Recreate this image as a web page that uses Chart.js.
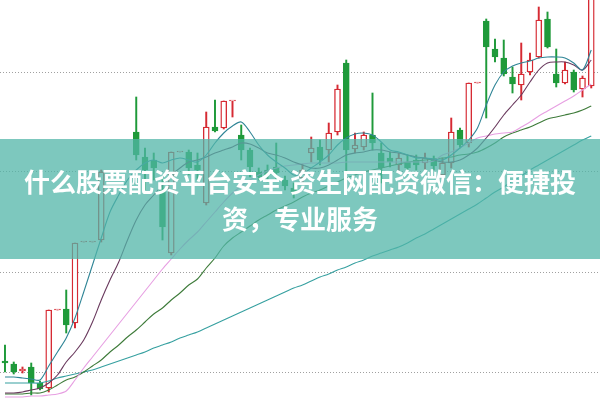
<!DOCTYPE html>
<html>
<head>
<meta charset="utf-8">
<script src="https://cdn.jsdelivr.net/npm/chart.js@4.4.1/dist/chart.umd.min.js"></script>
<style>
  body { margin: 0; background: #fff; }
  #wrap { position: relative; width: 600px; height: 400px; overflow: hidden; }
  #banner {
    position: absolute; left: 0; top: 139px; width: 600px; height: 120px;
    background: rgba(81, 181, 168, 0.75);
    display: flex; align-items: center; justify-content: center;
    color: #fff; font-family: "Noto Sans CJK SC", "Noto Sans", sans-serif;
    font-weight: bold; font-size: 26px; line-height: 37px; text-align: center;
  }
</style>
</head>
<body>
<div id="wrap">
  <canvas id="kChart" width="600" height="400"></canvas>
  <div id="banner"><div>什么股票配资平台安全 资生网配资微信：便捷投<br>资，专业服务</div></div>
</div>
<script>
// daily candles (null = no candle drawn)
const opens  = [11.1,10.8,10.1,10.5,8.9,8.4,16.2,16.3,14.9,23.0,23.0,23.2,null,null,null,34.0,31.5,31.2,28.2,21.9,32.0,32.0,30.7,26.9,34.5,34.4,37.1,33.7,32.2,30.0,30.2,30.5,29.2,28.4,29.4,31.9,32.5,32.2,34.0,40.9,32.3,32.5,33.7,31.9,31.4,30.7,31.0,31.2,30.9,31.2,29.7,30.9,34.2,32.9,38.9,45.1,42.3,41.4,39.5,38.7,40.0,41.5,45.3,39.8,38.9,40.0,38.3,38.6];
const highs  = [12.7,11.0,10.5,10.9,9.1,16.2,16.2,18.2,22.9,23.0,23.0,30.2,null,null,null,37.5,32.4,31.9,29.5,32.0,32.0,32.2,31.9,36.0,37.2,37.1,37.1,34.7,32.4,30.4,30.7,32.9,29.6,28.9,30.8,33.5,33.2,34.9,38.7,41.2,33.9,34.0,37.9,32.9,32.0,31.9,31.7,31.7,31.9,31.6,31.4,35.4,34.4,38.9,38.9,45.3,43.3,43.2,40.5,42.9,41.9,46.5,46.0,42.3,41.0,40.2,39.6,47.5];
const lows   = [10.0,9.8,9.9,7.7,8.2,8.0,16.2,13.9,14.4,23.0,23.0,23.0,null,null,null,31.2,28.2,29.2,23.2,21.7,32.0,29.7,29.2,26.7,34.0,34.3,35.5,31.2,29.5,29.2,29.0,29.2,28.2,27.4,29.0,31.0,30.7,31.0,33.7,29.7,31.9,32.2,32.2,28.9,30.5,29.9,30.0,30.2,30.2,30.2,29.4,30.4,32.4,32.5,38.9,35.4,41.0,39.6,37.9,37.2,39.7,41.4,42.4,38.5,38.8,38.0,37.5,38.4];
const closes = [10.9,10.0,10.3,8.9,8.3,16.2,16.2,14.7,22.9,23.0,23.0,30.0,null,null,null,31.7,30.2,30.4,24.5,32.0,32.0,30.4,30.2,34.5,34.1,37.1,37.1,32.2,30.5,29.5,29.7,29.9,28.6,28.0,30.2,32.4,31.2,33.9,38.3,32.2,32.7,33.7,32.9,30.4,31.0,31.4,30.4,30.7,31.4,30.6,30.9,34.0,32.7,38.9,38.9,42.5,41.5,39.8,38.8,39.8,41.2,45.2,42.5,38.9,40.2,38.2,39.4,47.5];

// moving averages
const ma5  = [9.5,9.5,9.4,9.3,9.2,10.6,12.0,13.4,15.4,18.0,20.7,23.4,26.0,27.7,29.2,30.2,30.9,31.2,30.9,31.2,31.4,31.2,31.0,31.7,32.9,33.9,34.6,35.0,34.0,32.7,31.7,31.0,30.4,29.7,29.8,30.4,31.0,31.7,32.7,33.4,33.8,33.9,33.7,33.0,32.2,32.0,31.7,31.4,31.4,31.3,31.2,31.7,32.4,33.2,34.4,36.7,38.7,40.0,40.6,40.9,41.1,41.4,41.5,41.5,41.4,40.9,40.2,42.2];
const ma10 = [7.9,7.9,8.0,8.2,8.4,8.9,9.7,11.0,12.0,13.2,15.0,17.2,19.2,21.0,23.2,25.2,26.7,27.7,28.7,29.7,30.4,31.0,31.2,31.5,31.9,32.2,32.5,32.9,32.8,32.4,31.9,31.7,31.4,31.0,30.7,30.4,30.4,30.7,31.2,31.7,31.9,32.0,32.2,32.2,32.0,31.9,31.7,31.5,31.4,31.2,31.0,31.0,31.2,31.7,32.4,33.4,34.5,35.7,36.7,37.7,39.0,40.2,40.9,41.0,41.0,40.7,40.2,41.2];
const ma20 = [7.5,7.5,7.5,7.6,7.6,7.7,7.8,8.1,9.2,10.4,11.5,12.6,13.7,14.8,15.9,17.0,18.1,19.2,20.3,21.3,22.3,23.2,24.0,25.0,26.0,27.0,27.9,28.6,29.2,29.7,30.1,30.4,30.6,30.7,30.8,30.9,30.9,30.9,30.9,31.0,31.0,31.0,31.0,31.0,31.0,31.0,31.0,31.0,31.0,31.1,31.7,32.0,32.4,32.9,33.4,33.6,33.8,33.9,34.0,34.5,35.0,35.6,36.1,36.6,37.1,37.6,38.2,38.8];
const ma30 = [7.8,7.8,7.8,7.9,7.9,8.2,8.7,9.2,9.5,10.0,10.6,11.2,12.0,12.7,13.5,14.2,15.0,15.8,16.4,17.2,17.9,18.7,19.3,20.4,21.4,22.6,23.4,24.0,24.6,25.2,25.7,26.2,26.6,27.0,27.5,27.9,28.2,28.6,29.0,29.4,29.7,30.0,30.2,30.4,30.6,30.8,31.0,31.1,31.2,31.3,31.4,31.5,31.7,31.8,32.0,32.4,32.9,33.5,33.9,34.2,34.5,34.9,35.3,35.5,35.7,35.9,36.2,36.6];
const ma60 = [8.9,8.9,8.9,8.9,8.9,9.1,9.4,9.6,9.8,10.0,10.2,10.5,10.8,11.1,11.4,11.7,12.0,12.4,12.7,13.0,13.4,13.7,14.0,14.4,14.8,15.2,15.6,16.0,16.4,16.8,17.2,17.6,18.0,18.4,18.7,19.1,19.5,19.8,20.2,20.5,20.9,21.2,21.6,21.9,22.2,22.5,22.9,23.4,23.8,24.3,24.8,25.3,25.8,26.3,26.8,27.4,28.0,28.5,29.1,29.6,30.2,30.7,31.2,31.7,32.2,32.7,33.2,33.6];

const gridTicks = [10, 20, 30, 40];

const UP = '#d62a33', DOWN = '#1f9a3a';

const candles = opens.map((o, i) => ({ i, o, h: highs[i], l: lows[i], c: closes[i] })).filter(k => k.o !== null);
const isUp = k => k.c >= k.o;

const bodies = candles.map(k => {
  let lo = Math.min(k.o, k.c), hi = Math.max(k.o, k.c);
  if (hi - lo < 0.1) hi = lo + 0.1; // flat days still show a dash
  return { x: k.i, y: [lo, hi] };
});
const wicks = candles.map(k => ({ x: k.i, y: [k.l, Math.max(k.h, k.l + 0.05)] }));

function maLine(values, color) {
  return {
    type: 'line', data: values.map((v, i) => ({ x: i, y: v })),
    borderColor: color, borderWidth: 1.1, pointRadius: 0, tension: 0.3, fill: false, order: 0
  };
}

new Chart(document.getElementById('kChart'), {
  type: 'bar',
  data: {
    datasets: [
      maLine(ma5, '#2f8596'),
      maLine(ma10, '#6a3a5e'),
      maLine(ma20, '#e79fe2'),
      maLine(ma30, '#3e7b3a'),
      maLine(ma60, '#36a0a0'),
      {
        data: bodies, order: 1, grouped: false, barThickness: 6,
        backgroundColor: candles.map(k => isUp(k) ? '#ffffff' : DOWN),
        borderColor: candles.map(k => isUp(k) ? UP : DOWN),
        borderWidth: 1.4, borderSkipped: false
      },
      {
        data: wicks, order: 2, grouped: false, barThickness: 1.3,
        backgroundColor: candles.map(k => isUp(k) ? UP : DOWN),
        borderWidth: 0
      }
    ]
  },
  options: {
    responsive: false, animation: false,
    layout: { padding: 0 },
    plugins: { legend: { display: false }, tooltip: { enabled: false } },
    scales: {
      x: { type: 'linear', min: -0.57, max: 68.0, offset: false, display: false },
      y: {
        min: 7.2, max: 47.2,
        afterBuildTicks: s => { s.ticks = gridTicks.map(v => ({ value: v })); },
        afterFit: s => { s.width = 0; },
        ticks: { display: false },
        grid: { color: '#a0a0a0', lineWidth: 1, drawTicks: false },
        border: { display: false, dash: [1, 2] }
      }
    }
  }
});
</script>
</body>
</html>
